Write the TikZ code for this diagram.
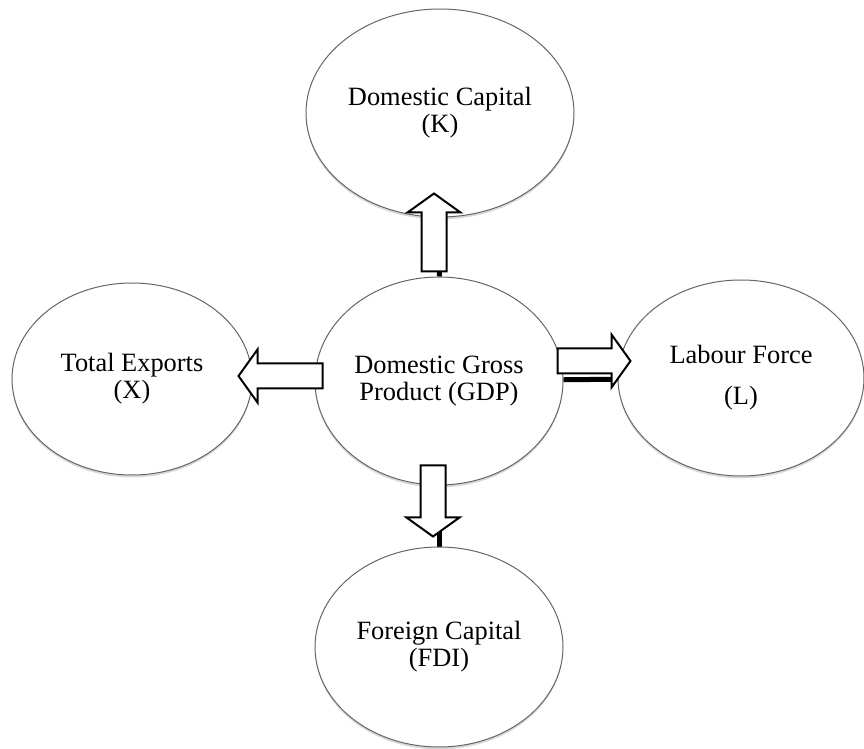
\documentclass[tikz,border=0pt]{standalone}
\usepackage{fontspec}
\setmainfont{Liberation Serif}
\usetikzlibrary{calc, shapes.geometric, shadows, backgrounds}

% hollow block arrow from #1 (tail) to #2 (tip)
\newcommand{\blockarrow}[2]{%
  \coordinate (hb) at ($(#2)!9.5pt!(#1)$);
  \draw[bigarrow] ($(#1)!6.25pt!90:(#2)$) -- ($(hb)!6.25pt!-90:(#1)$)
    -- ($(hb)!13.25pt!-90:(#1)$) -- (#2) -- ($(hb)!13.25pt!90:(#1)$)
    -- ($(hb)!6.25pt!90:(#1)$) -- ($(#1)!6.25pt!-90:(#2)$) -- cycle;
}

\begin{document}
\begin{tikzpicture}[x=0.5pt,y=-0.5pt,
                    main node/.style={ellipse,draw=black!60,line width=0.5pt,fill=white,
                      inner sep=0pt,align=center,font=\fontsize{13.2}{13.5}\selectfont,
                      drop shadow={shadow xshift=0pt,shadow yshift=-1.2pt,opacity=0.3}},
                    bigarrow/.style={draw=black,fill=white,line width=1pt,miter limit=10},
                    link/.style={line width=2.5pt}]

  \useasboundingbox (0,0) rectangle (864,749);

  \node[main node,minimum width=134pt,minimum height=104pt] (K) at (440,113) {Domestic Capital\\(K)};
  \node[main node,minimum width=124pt,minimum height=104pt] (GDP) at (439,381) {Domestic Gross\\Product (GDP)};
  \node[main node,minimum width=120pt,minimum height=96pt] (X) at (132,379) {Total Exports\\(X)};
  \node[main node,minimum width=123pt,minimum height=98pt] (L) at (741,378) {Labour Force\\[7pt](L)};
  \node[main node,minimum width=124pt,minimum height=100pt] (FDI) at (439,647) {Foreign Capital\\(FDI)};

  \begin{pgfonlayer}{background}
    \draw[link] (GDP) -- (K);
    \draw[link] (GDP) -- (L);
    \draw[link] (GDP) -- (FDI);
  \end{pgfonlayer}

  \coordinate (upT) at ($(GDP.north)+(-5,-5)$);
  \coordinate (upH) at ($(K.south)+(-6,-24)$);
  \coordinate (dnT) at ($(GDP.south)+(-6,-20)$);
  \coordinate (dnH) at ($(FDI.north)+(-6,-10)$);
  \coordinate (lfT) at ($(GDP.west)+(8,-5)$);
  \coordinate (lfH) at ($(X.east)+(-14,-3)$);
  \coordinate (rtT) at ($(GDP.east)+(-6,-20)$);
  \coordinate (rtH) at ($(L.west)+(13,-17)$);

  \blockarrow{upT}{upH}
  \blockarrow{dnT}{dnH}
  \blockarrow{lfT}{lfH}
  \blockarrow{rtT}{rtH}

\end{tikzpicture}
\end{document}
